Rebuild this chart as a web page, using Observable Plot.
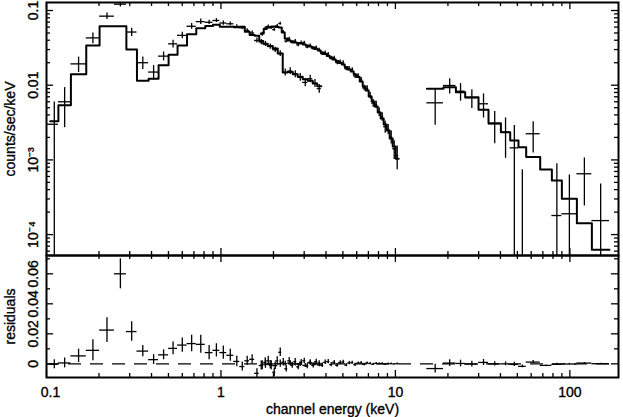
<!DOCTYPE html>
<html><head><meta charset="utf-8">
<script src="https://cdn.jsdelivr.net/npm/d3@7"></script>
<script src="https://cdn.jsdelivr.net/npm/@observablehq/plot@0.6"></script>
<style>
body{margin:0;background:#fff;}
#chart{position:relative;width:623px;height:417px;background:#fff;}
#chart svg{position:absolute;left:0;}
</style></head><body><div id="chart"></div>
<script>
// ---- Data ----
// Low-energy instrument: bin edges (keV), rate (counts/s/keV), 1-sigma error, folded model
const lecsEdges = [0.105, 0.117, 0.138, 0.169, 0.2015, 0.245, 0.287, 0.330, 0.385, 0.439, 0.501, 0.564, 0.639, 0.722, 0.813, 0.90, 0.985, 1.08, 1.185, 1.282, 1.37, 1.46, 1.56, 1.657, 1.748, 1.853, 1.981, 2.116, 2.26, 2.414, 2.58, 2.755, 2.943, 3.144, 3.358, 3.563, 3.76];
const lecsRate = [0.0030, 0.0060, 0.0193, 0.043, 0.084, 0.1215, 0.0515, 0.020, 0.0150, 0.0245, 0.0358, 0.0465, 0.0615, 0.071, 0.0695, 0.0735, 0.068, 0.0664, 0.0611, 0.0587, 0.054, 0.050, 0.0397, 0.0379, 0.0358, 0.0330, 0.0298, 0.0266, 0.0149, 0.0155, 0.0141, 0.0128, 0.0109, 0.0122, 0.0106, 0.0090];
const lecsErr = [0.00296, 0.0033, 0.0045, 0.007, 0.0083, 0.010, 0.0065, 0.0038, 0.0033, 0.0033, 0.0042, 0.0047, 0.0055, 0.006, 0.0047, 0.0044, 0.0044, 0.004, 0.0035, 0.003, 0.003, 0.003, 0.003, 0.003, 0.0028, 0.0027, 0.0025, 0.0024, 0.0016, 0.0016, 0.0015, 0.0015, 0.0014, 0.0014, 0.0013, 0.0012];
const lecsModel = [0.0033, 0.0054, 0.014, 0.034, 0.0615, 0.0615, 0.030, 0.0115, 0.0122, 0.0185, 0.0255, 0.034, 0.048, 0.058, 0.062, 0.0645, 0.0605, 0.0607, 0.0595, 0.0605, 0.052, 0.047, 0.046, 0.039, 0.036, 0.0335, 0.031, 0.0265, 0.0148, 0.0150, 0.0140, 0.0130, 0.0120, 0.0115, 0.0105, 0.0097];

// Medium-energy instrument: channel centre energies (keV)
const mecsEnergy = [1.725, 1.794, 1.867, 1.942, 2.020, 2.102, 2.187, 2.275, 2.367, 2.463, 2.562, 2.666, 2.773, 2.885, 3.002, 3.123, 3.249, 3.380, 3.517, 3.659, 3.806, 3.960, 4.120, 4.286, 4.459, 4.639, 4.827, 5.022, 5.224, 5.435, 5.654, 5.882, 6.120, 6.368, 6.624, 6.891, 7.170, 7.459, 7.762, 8.075, 8.400, 8.740, 9.093, 9.461, 9.843, 10.24];
const mecsRate = [0.0482, 0.0575, 0.0612, 0.0591, 0.0555, 0.0621, 0.0669, 0.0517, 0.0389, 0.0417, 0.0375, 0.0388, 0.0347, 0.0372, 0.0371, 0.0325, 0.0340, 0.0310, 0.0320, 0.0296, 0.0264, 0.0272, 0.0261, 0.0230, 0.0231, 0.0201, 0.0206, 0.0201, 0.0167, 0.0167, 0.0161, 0.0133, 0.0133, 0.0118, 0.0092, 0.0090, 0.00726, 0.00575, 0.00549, 0.00441, 0.00378, 0.00278, 0.00257, 0.00203, 0.00141, 0.00114];
const mecsErr = [0.0030, 0.0030, 0.0030, 0.0030, 0.0028, 0.0028, 0.0028, 0.0025, 0.0022, 0.0022, 0.0020, 0.0020, 0.0019, 0.0019, 0.0018, 0.0018, 0.0017, 0.0017, 0.0016, 0.0016, 0.0015, 0.0015, 0.0014, 0.0014, 0.0013, 0.0013, 0.0012, 0.0012, 0.0011, 0.0011, 0.0010, 0.0010, 0.0009, 0.0009, 0.0008, 0.0008, 0.0007, 0.0007, 0.0006, 0.0006, 0.0005, 0.0005, 0.0004, 0.0004, 0.0004, 0.0004];
const mecsModel = [0.0492, 0.0565, 0.0592, 0.0601, 0.0611, 0.0601, 0.0592, 0.0507, 0.0422, 0.0397, 0.0385, 0.0373, 0.0367, 0.0362, 0.0351, 0.0340, 0.0330, 0.0320, 0.0305, 0.0291, 0.0274, 0.0262, 0.0246, 0.0235, 0.0221, 0.0211, 0.0198, 0.0189, 0.0175, 0.0162, 0.0153, 0.0139, 0.0129, 0.0112, 0.0096, 0.0085, 0.00706, 0.00605, 0.00519, 0.00431, 0.00358, 0.00298, 0.00247, 0.00193, 0.00151, 0.00104];

// High-energy instrument
const pdsEdges = [15.15, 18.86, 22.22, 25.12, 29.95, 34.17, 40.24, 45.5, 50.75, 56.18, 67.58, 78.85, 89.98, 109.7, 133.7, 168.6];
const pdsRate = [0.00581, 0.00991, 0.00831, 0.00678, 0.00564, 0.00304, 0.00235, 0.00145, -0.0002, 0.00224, -0.0003, 0.00018, 0.00019, 0.000652, 0.000154];
const pdsErr = [0.0029, 0.0023, 0.0022, 0.0019, 0.0020, 0.0014, 0.0013, 0.00143, 0.00094, 0.0010, 0.00025, 0.00071, 0.00044, 0.00041, 0.00032];
const pdsModel = [0.00895, 0.0094, 0.00806, 0.00691, 0.00469, 0.0031, 0.00235, 0.00182, 0.00148, 0.00109, 0.000744, 0.00053, 0.000301, 0.000142, 0.0000626];

// Axes
const xTicks = [0.1, 1, 10, 100];
const xTickLabels = ["0.1", "1", "10", "100"];
const yTicksTop = [1e-4, 1e-3, 0.01, 0.1];
const yTickLabelsTop = ["10\u207B\u2074", "10\u207B\u00B3", "0.01", "0.1"];
const yTicksRes = [0, 0.02, 0.04, 0.06];
const yTickLabelsRes = ["0", "0.02", "0.04", "0.06"];
const xLabel = "channel energy (keV)";
const yLabelTop = "counts/sec/keV";
const yLabelRes = "residuals";

// ---- Derived tables ----
function edgesFromCenters(c) {
  const e = [c[0] * c[0] / Math.sqrt(c[0] * c[1])];
  for (let i = 1; i < c.length; i++) e.push(Math.sqrt(c[i - 1] * c[i]));
  const n = c.length;
  e.push(c[n - 1] * c[n - 1] / Math.sqrt(c[n - 2] * c[n - 1]));
  return e;
}
function makeBins(set, edges, rate, err, model) {
  return rate.map((r, i) => ({
    set, lo: edges[i], hi: edges[i + 1], x: Math.sqrt(edges[i] * edges[i + 1]),
    y: r, err: err[i], model: model[i], res: r - model[i]
  }));
}
const bins = [
  ...makeBins("lecs", lecsEdges, lecsRate, lecsErr, lecsModel),
  ...makeBins("mecs", edgesFromCenters(mecsEnergy), mecsRate, mecsErr, mecsModel),
  ...makeBins("pds", pdsEdges, pdsRate, pdsErr, pdsModel)
];
const steps = bins.flatMap(d => [{set: d.set, x: d.lo, y: d.model}, {set: d.set, x: d.hi, y: d.model}]);

function minorLog(lo, hi) {
  const out = [];
  for (let p = -6; p <= 3; p++) for (let k = 2; k <= 9; k++) {
    const v = k * Math.pow(10, p);
    if (v > lo && v < hi) out.push(v);
  }
  return out;
}
const xDomain = [0.1, 190];
const yDomainTop = [5.25e-5, 0.128];
const yDomainRes = [-0.0091, 0.0722];
const xMinor = minorLog(xDomain[0], xDomain[1]);
const yMinorTop = minorLog(yDomainTop[0], yDomainTop[1]);
const yMinorRes = [-0.01, 0.01, 0.03, 0.05, 0.07].filter(v => v > yDomainRes[0] && v < yDomainRes[1]);

const W = 623, ML = 46, MR = 5;
const PW = W - ML - MR;
const font = "'Liberation Sans', Arial, Helvetica, sans-serif";
const MAJ = 7, MIN = 4, TW = 1.3;
const txt = {fontSize: 14, fill: "black", stroke: "black", strokeWidth: 0.35, textAnchor: "middle", lineAnchor: "middle"};

function tickMarks(ph, xMaj, xMin, yMaj, yMin) {
  return [
    Plot.ruleX(xMaj, {x: d => d, insetBottom: ph - MAJ, strokeWidth: TW}),
    Plot.ruleX(xMaj, {x: d => d, insetTop: ph - MAJ, strokeWidth: TW}),
    Plot.ruleX(xMin, {x: d => d, insetBottom: ph - MIN, strokeWidth: TW}),
    Plot.ruleX(xMin, {x: d => d, insetTop: ph - MIN, strokeWidth: TW}),
    Plot.ruleY(yMaj, {y: d => d, insetRight: PW - MAJ, strokeWidth: TW}),
    Plot.ruleY(yMaj, {y: d => d, insetLeft: PW - MAJ, strokeWidth: TW}),
    Plot.ruleY(yMin, {y: d => d, insetRight: PW - MIN, strokeWidth: TW}),
    Plot.ruleY(yMin, {y: d => d, insetLeft: PW - MIN, strokeWidth: TW})
  ];
}

// ---- Top panel ----
const H1 = 256, MT1 = 2, MB1 = 1;
const topPlot = Plot.plot({
  width: W, height: H1, marginTop: MT1, marginBottom: MB1, marginLeft: ML, marginRight: MR,
  style: {fontFamily: font, fontSize: "14px", background: "transparent", overflow: "visible", color: "black"},
  x: {type: "log", domain: xDomain, axis: null},
  y: {type: "log", domain: yDomainTop, axis: null},
  marks: [
    Plot.line(steps, {x: "x", y: "y", z: "set", stroke: "black", strokeWidth: 2, clip: true}),
    Plot.ruleX(bins.filter(d => d.y + d.err > 0), {x: "x", y1: d => Math.max(d.y - d.err, 1e-9), y2: d => d.y + d.err, stroke: "black", strokeWidth: 1.3, clip: true}),
    Plot.ruleY(bins.filter(d => d.y > 0), {y: "y", x1: "lo", x2: "hi", stroke: "black", strokeWidth: 1.3, clip: true}),
    ...tickMarks(H1 - MT1 - MB1, xTicks, xMinor, yTicksTop, yMinorTop),
    Plot.text(yTicksTop, {...txt, y: d => d, text: (d, i) => yTickLabelsTop[i], frameAnchor: "left", rotate: -90, dx: -13}),
    Plot.text([yLabelTop], {...txt, text: d => d, frameAnchor: "left", rotate: -90, dx: -36}),
    Plot.frame({stroke: "black", strokeWidth: 2})
  ]
});
topPlot.style.top = "0px";

// ---- Residual panel ----
const H2 = 163, MT2 = 1, MB2 = 40;
const bottomPlot = Plot.plot({
  width: W, height: H2, marginTop: MT2, marginBottom: MB2, marginLeft: ML, marginRight: MR,
  style: {fontFamily: font, fontSize: "14px", background: "transparent", overflow: "visible", color: "black"},
  x: {type: "log", domain: xDomain, axis: null},
  y: {domain: yDomainRes, axis: null},
  marks: [
    Plot.ruleY([0], {stroke: "black", strokeWidth: 1.3, strokeDasharray: "13,9"}),
    Plot.ruleX(bins, {x: "x", y1: d => d.res - d.err, y2: d => d.res + d.err, stroke: "black", strokeWidth: 1.3, clip: true}),
    Plot.ruleY(bins, {y: "res", x1: "lo", x2: "hi", stroke: "black", strokeWidth: 1.3, clip: true}),
    ...tickMarks(H2 - MT2 - MB2, xTicks, xMinor, yTicksRes, yMinorRes),
    Plot.text(yTicksRes, {...txt, y: d => d, text: (d, i) => yTickLabelsRes[i], frameAnchor: "left", rotate: -90, dx: -13}),
    Plot.text([yLabelRes], {...txt, text: d => d, frameAnchor: "left", rotate: -90, dx: -36}),
    Plot.text(xTicks.slice(0, 1), {...txt, x: d => d, text: (d, i) => xTickLabels[i], frameAnchor: "bottom", dy: 15, dx: 4}),
    Plot.text(xTicks.slice(1), {...txt, x: d => d, text: (d, i) => xTickLabels[i + 1], frameAnchor: "bottom", dy: 15}),
    Plot.text([xLabel], {...txt, text: d => d, frameAnchor: "bottom", dy: 32}),
    Plot.frame({stroke: "black", strokeWidth: 2})
  ]
});
bottomPlot.style.top = "254px";

const chart = document.getElementById("chart");
chart.appendChild(topPlot);
chart.appendChild(bottomPlot);
</script></body></html>
